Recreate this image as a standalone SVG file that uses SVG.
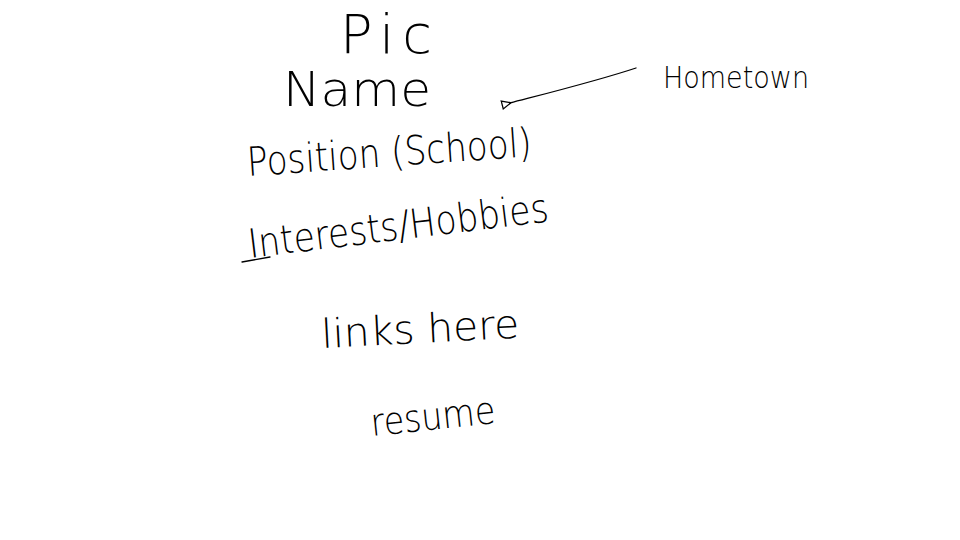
<svg xmlns="http://www.w3.org/2000/svg" width="960" height="540" viewBox="0 0 960 540">
  <style>
    .hand { font-family: "DejaVu Sans", "Liberation Sans", sans-serif; font-weight: 200; fill: #000; }
    .stroke { fill: none; stroke: #000; stroke-width: 1.3; stroke-linecap: round; stroke-linejoin: round; }
  </style>
  <defs>
    <marker id="head" viewBox="0 0 10 10" refX="1" refY="5" markerWidth="10" markerHeight="10" orient="auto-start-reverse" markerUnits="userSpaceOnUse">
      <path d="M0,5 L9,1 L9,9 Z" fill="none" stroke="#000" stroke-width="1.3"/>
    </marker>
  </defs>
  <rect width="960" height="540" fill="#fff"/>

  <g id="pic">
    <text class="hand" x="340" y="53" font-size="54" textLength="92" lengthAdjust="spacing">Pic</text>
  </g>
  <g id="name">
    <text class="hand" x="283" y="106" font-size="48" textLength="148" lengthAdjust="spacingAndGlyphs">Name</text>
  </g>
  <g id="hometown">
    <text class="hand" x="663" y="88" font-size="31" textLength="146" lengthAdjust="spacingAndGlyphs">Hometown</text>
  </g>
  <g id="position">
    <text class="hand" x="248" y="176" font-size="40" textLength="285" lengthAdjust="spacingAndGlyphs" transform="rotate(-4 248 176)">Position (School)</text>
  </g>
  <g id="interests">
    <text class="hand" x="250" y="258" font-size="40" textLength="302" lengthAdjust="spacingAndGlyphs" transform="rotate(-7 250 258)">Interests/Hobbies</text>
    <path class="stroke" d="M242,262 L270,257"/>
  </g>
  <g id="links">
    <text class="hand" x="322" y="348" font-size="40" textLength="198" lengthAdjust="spacingAndGlyphs" transform="rotate(-3 322 348)">links here</text>
  </g>
  <g id="resume">
    <text class="hand" x="372" y="436" font-size="38" textLength="125" lengthAdjust="spacingAndGlyphs" transform="rotate(-6 372 436)">resume</text>
  </g>

  <g id="connectors">
    <path class="stroke" d="M636,68 C600,80 560,90 510,103" marker-end="url(#head)"/>
  </g>
</svg>
